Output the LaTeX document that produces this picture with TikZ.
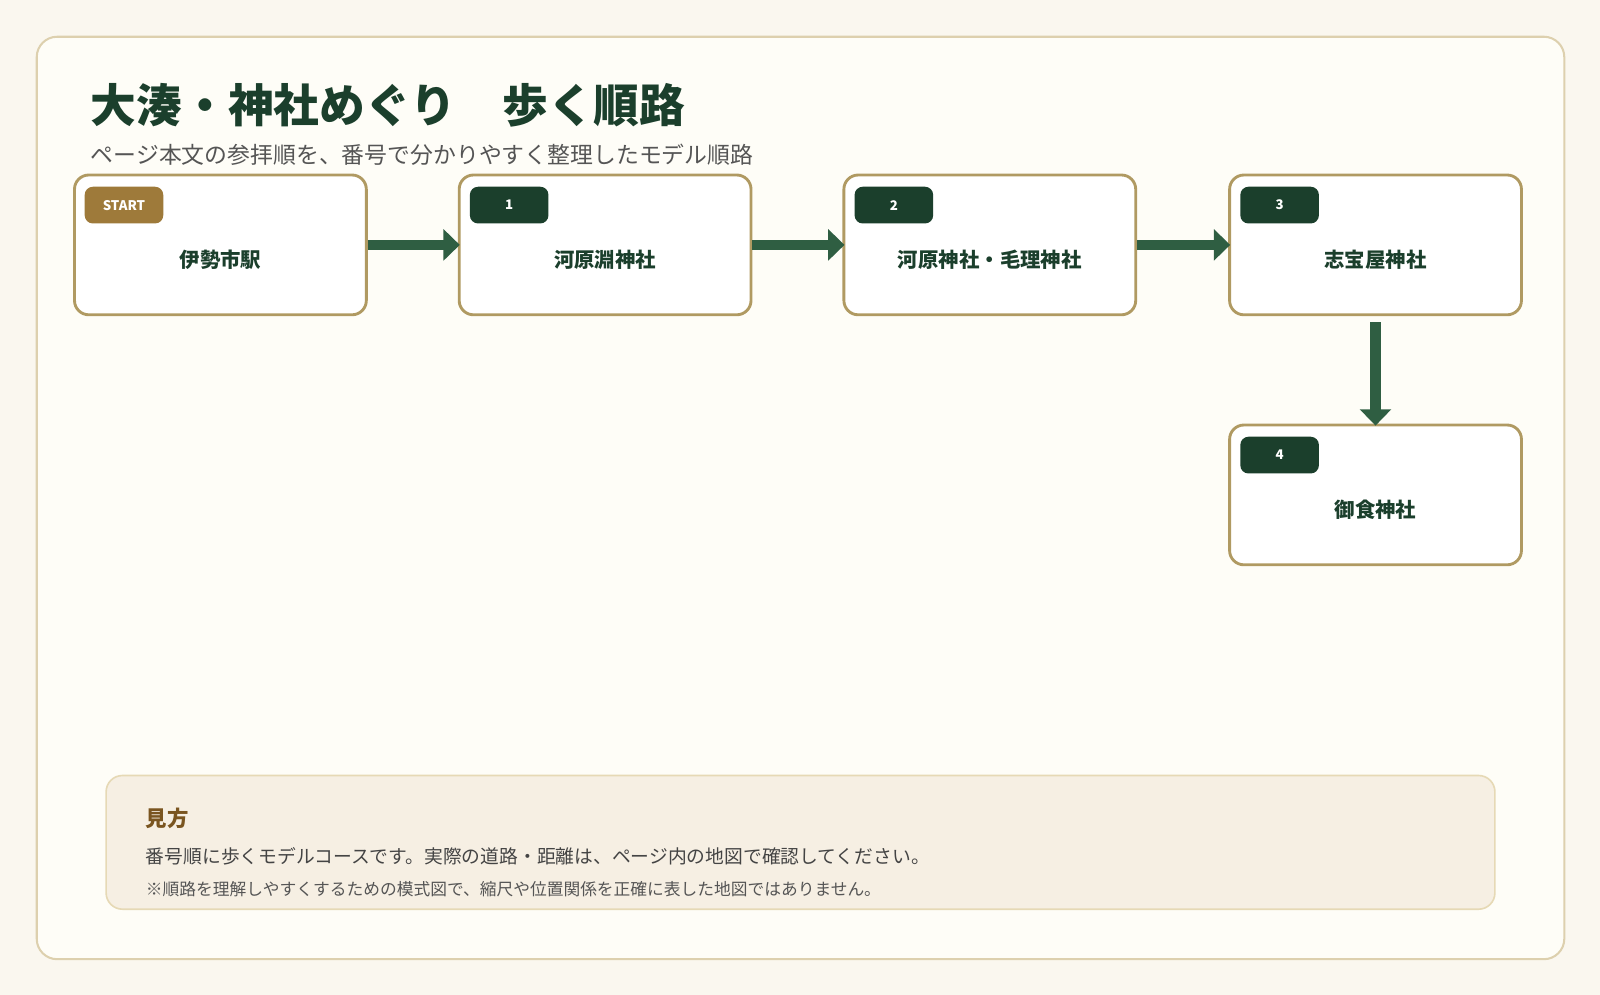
\documentclass[tikz,border=0pt]{standalone}
\usepackage{fontspec}
\setmainfont{Noto Sans CJK JP}
\usetikzlibrary{arrows.meta}
\definecolor{pagebg}{HTML}{FAF7EF}
\definecolor{cardbg}{HTML}{FEFDF7}
\definecolor{cardline}{HTML}{DDD0AE}
\definecolor{boxline}{HTML}{B09A62}
\definecolor{deepgreen}{HTML}{1B3F2C}
\definecolor{arrowgreen}{HTML}{2F5E42}
\definecolor{startbrown}{HTML}{9E7A3A}
\definecolor{notebg}{HTML}{F6EFE3}
\definecolor{noteline}{HTML}{E6D9B5}
\definecolor{greytext}{HTML}{555555}
\definecolor{notetitle}{HTML}{7A5520}
\begin{document}
\begin{tikzpicture}
		[x=0.5pt,y=-0.5pt,
		%Styles
		stop/.style={draw=boxline,line width=1.4pt,fill=white,rounded corners=7pt,
			minimum width=143pt,minimum height=68.5pt,inner sep=0pt},
		stop name/.style={text=deepgreen,font=\fontsize{10}{12}\selectfont\bfseries},
		badge/.style={fill=deepgreen,text=white,rounded corners=4pt,minimum width=38.5pt,
			minimum height=18pt,inner sep=0pt,font=\fontsize{6.5}{7}\selectfont\bfseries},
		route/.style={arrowgreen,line width=5pt,-{Triangle[length=8pt,width=15pt]},shorten >=-1pt}
		]
		
		%Background and frame
		\fill[pagebg] (0,0) rectangle (1568,975);
		\filldraw[fill=cardbg,draw=cardline,line width=1pt,rounded corners=10pt] (36,36) rectangle (1533,940);
		
		\node[anchor=west,text=deepgreen,font=\fontsize{22.4}{26}\selectfont\bfseries] (title) at (82,103) {大湊・神社めぐり　歩く順路};
		\node[anchor=west,text=greytext,font=\fontsize{11.2}{13}\selectfont] (subtitle) at (82,152) {ページ本文の参拝順を、番号で分かりやすく整理したモデル順路};
		
		%The stops
		\node[stop] (s0) at (216,240) {};
		\node[stop] (s1) at (593,240) {};
		\node[stop] (s2) at (970,240) {};
		\node[stop] (s3) at (1348,240) {};
		\node[stop] (s4) at (1348,485) {};
		
		\node[badge,fill=startbrown] (b0) at (121.5,201) {START};
		\foreach \i/\x/\y in {1/499/201,2/876/201,3/1254/201,4/1254/446}
			\node[badge] (b\i) at (\x,\y) {\i};
		
		\node[stop name] (n0) at (216,255) {伊勢市駅};
		\node[stop name] (n1) at (593,255) {河原淵神社};
		\node[stop name] (n2) at (970,255) {河原神社・毛理神社};
		\node[stop name] (n3) at (1348,255) {志宝屋神社};
		\node[stop name] (n4) at (1348,500) {御食神社};
		
		\draw[route] (s0.east) -- (s1.west);
		\draw[route] (s1.east) -- (s2.west);
		\draw[route] (s2.east) -- (s3.west);
		\draw[route,shorten <=3pt] (s3.south) -- (s4.north);
		
		%Legend
		\filldraw[fill=notebg,draw=noteline,line width=0.8pt,rounded corners=8pt] (104,760) rectangle (1465,891);
		\node[anchor=west,text=notetitle,font=\fontsize{10.5}{12}\selectfont\bfseries] (howto) at (136,802) {見方};
		\node[anchor=west,text=greytext!80!black,font=\fontsize{9.2}{11}\selectfont] (howto text) at (136,839) {番号順に歩くモデルコースです。実際の道路・距離は、ページ内の地図で確認してください。};
		\node[anchor=west,text=greytext,font=\fontsize{8.2}{10}\selectfont] (howto note) at (136,871) {※順路を理解しやすくするための模式図で、縮尺や位置関係を正確に表した地図ではありません。};
	\end{tikzpicture}
\end{document}
